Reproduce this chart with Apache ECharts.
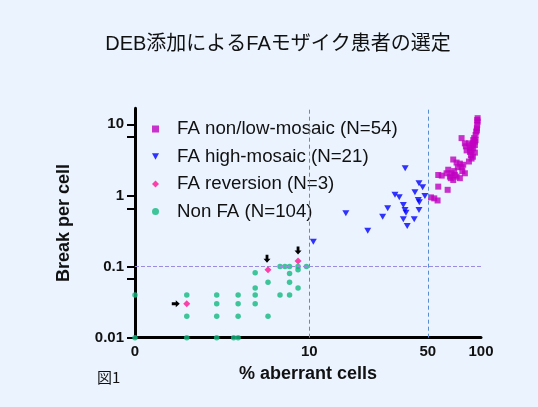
<!DOCTYPE html>
<html>
<head>
<meta charset="utf-8">
<script src="https://cdn.jsdelivr.net/npm/echarts@6/dist/echarts.min.js"></script>
<style>
html,body{margin:0;padding:0;background:#EAF3FE;}
#chart{width:538px;height:407px;}
</style>
</head>
<body>
<div id="chart"></div>
<script>
// ---- data (x = % aberrant cells, y = breaks per cell) ----
const xTickLabels = [0, 10, 50, 100];
const yTickLabels = [0.01, 0.1, 1, 10];
const yMinorTicks = [0.067, 0.65, 6.7];
const refLineY = [0.1];
const refLineX = [10, 50];

const faLowMosaic = [
  [95.7,12.2],[95.7,10.9],[95.2,9.8],[94.8,8.8],[94.0,7.9],[93.2,7.1],[91.5,6.4],[77.7,6.4],
  [92.4,5.7],[90.4,5.4],[88.5,5.1],[85.5,5.4],[81.1,5.4],[82.2,4.9],[86.6,4.6],[90.4,4.6],
  [92.4,5.1],[86.6,4.1],[87.7,3.7],[88.5,3.3],[85.5,3.0],[69.7,3.2],[72.8,2.9],[76.0,2.8],
  [79.4,2.7],[77.7,2.5],[81.1,2.05],[76.0,1.75],[71.2,1.94],[68.2,2.05],[65.3,2.3],[63.9,2.05],
  [66.7,1.84],[69.7,1.65],[72.8,1.84],[57.3,1.94],[57.3,1.33],[64.8,1.20],[52.1,0.94],[54.4,0.91],
  [56.8,0.85],[95.2,11.5],[94.8,8.2],[93.2,6.0],[90.4,6.0],[83.0,4.3],[88.5,4.3],[74.0,2.5],
  [70.5,2.2],[67.5,1.75],[60.0,1.9],[92.4,4.0],[90.0,3.5],[78.5,2.2]
];
const faHighMosaic = [
  [37.1,2.41],[44.5,1.48],[46.7,1.30],[32.4,1.02],[34.3,0.94],[42.2,1.11],[44.1,0.86],
  [48.1,0.98],[44.7,0.80],[36.2,0.735],[37.0,0.625],[37.5,0.573],[29.4,0.66],[27.5,0.503],
  [44.5,0.625],[36.2,0.463],[41.8,0.463],[38.1,0.372],[16.7,0.562],[22.5,0.320],[10.6,0.224]
];
const faReversion = [[1.13,0.03],[5.4,0.09],[8.5,0.12]];
const nonFA = [
  [0,0.04],[0,0.01],
  [1.13,0.04],[1.13,0.02],[1.13,0.01],
  [2.22,0.04],[2.22,0.03],[2.22,0.02],[2.22,0.01],
  [3.3,0.04],[3.3,0.03],[3.3,0.02],[3.3,0.01],[3.05,0.01],
  [4.4,0.082],[4.4,0.05],[4.4,0.04],[4.4,0.03],
  [5.4,0.06],[5.4,0.02],
  [6.5,0.1],[6.5,0.04],
  [7.0,0.1],
  [7.5,0.1],[7.5,0.08],[7.5,0.06],[7.5,0.04],
  [8.5,0.1],[8.5,0.09],[8.5,0.05],
  [9.6,0.1]
];
const seriesNames = ['FA non/low-mosaic (N=54)','FA high-mosaic (N=21)','FA reversion (N=3)','Non FA (N=104)'];

// ---- x scale: log(x + K) so that 0 can be shown ----
const K = 1.2;
const tx = v => Math.log10(v + K);
const ix = t => Math.pow(10, t) - K;
const mapPts = arr => arr.map(p => [tx(p[0]), p[1]]);

const downTri = 'path://M0,0 L10,0 L5,9 Z';
const arrowDown = 'path://M3,0 L7,0 L7,5 L10,5 L5,10 L0,5 L3,5 Z';
const arrowRight = 'path://M0,3 L5,3 L5,0 L10,5 L5,10 L5,7 L0,7 Z';

const chart = echarts.init(document.getElementById('chart'), null, {renderer:'canvas'});
const option = {
  backgroundColor: '#EAF3FE',
  animation: false,
  title: {
    text: 'DEB添加によるFAモザイク患者の選定',
    left: 273, top: 29, textAlign: 'center',
    textStyle: {fontFamily: '"Liberation Sans", "Noto Sans CJK JP", sans-serif', fontSize: 20, fontWeight: 'normal', color: '#111'}
  },
  legend: {
    orient: 'vertical', left: 147, top: 114, padding: 5,
    itemWidth: 7, itemHeight: 7, itemGap: 7.5,
    textStyle: {fontFamily: '"Liberation Sans", Arial, sans-serif', fontSize: 18.7, color: '#111', lineHeight: 20, padding: [0,0,0,13]},
    data: seriesNames
  },
  grid: {left: 135, top: 108.3, width: 346, height: 229.4, containLabel: false},
  xAxis: {
    type: 'value', min: tx(0), max: tx(100),
    name: '% aberrant cells', nameLocation: 'middle', nameGap: 25,
    nameTextStyle: {fontFamily: '"Liberation Sans", Arial, sans-serif', fontSize: 18, fontWeight: 'bold', color: '#111'},
    axisLine: {onZero: false, lineStyle: {color: '#000', width: 3}},
    axisTick: {show: false},
    splitLine: {show: false},
    axisLabel: {
      customValues: xTickLabels.map(tx),
      formatter: v => String(Math.round(ix(v))),
      fontFamily: '"Liberation Sans", Arial, sans-serif', fontSize: 15, fontWeight: 'bold', color: '#111', margin: 7
    }
  },
  yAxis: {
    type: 'log', logBase: 10, min: 0.01, max: 16.8,
    name: 'Break per cell', nameLocation: 'middle', nameGap: 62,
    nameTextStyle: {fontFamily: '"Liberation Sans", Arial, sans-serif', fontSize: 18, fontWeight: 'bold', color: '#111'},
    axisLine: {lineStyle: {color: '#000', width: 3}},
    axisTick: {customValues: yTickLabels.concat(yMinorTicks), length: 8, lineStyle: {color: '#000', width: 2}},
    splitLine: {show: false},
    axisLabel: {
      customValues: yTickLabels,
      formatter: v => String(parseFloat(Number(v).toPrecision(3))),
      fontFamily: '"Liberation Sans", Arial, sans-serif', fontSize: 15, fontWeight: 'bold', color: '#111', margin: 11
    }
  },
  graphic: [{
    type: 'text', left: 97, top: 370,
    style: {text: '図1', font: '15px "Noto Sans CJK JP", sans-serif', fill: '#111'}
  }],
  series: [
    {
      name: seriesNames[0], type: 'scatter', clip: false, z: 3,
      symbol: 'rect', symbolSize: 6, itemStyle: {color: '#C000C0'},
      data: mapPts(faLowMosaic),
      markLine: {
        silent: true, symbol: 'none', label: {show: false},
        data: refLineX.map(v => ({xAxis: tx(v), lineStyle: {color: '#5A8CD2', type: [4,3], width: 1}}))
          .concat(refLineY.map(v => ({yAxis: v, lineStyle: {color: '#9A8CE0', type: [4,2], width: 1}})))
      }
    },
    {
      name: seriesNames[1], type: 'scatter', clip: false, z: 3,
      symbol: downTri, symbolSize: [7, 6], itemStyle: {color: '#0000FF'},
      data: mapPts(faHighMosaic)
    },
    {
      name: seriesNames[2], type: 'scatter', clip: false, z: 5,
      symbol: 'diamond', symbolSize: 7, itemStyle: {color: '#FF1493'},
      data: mapPts(faReversion),
      markPoint: {
        silent: true, label: {show: false}, itemStyle: {color: '#000'},
        data: [
          {coord: [tx(faReversion[0][0]), faReversion[0][1]], symbol: arrowRight, symbolSize: [8, 7], symbolOffset: [-11, 0]},
          {coord: [tx(faReversion[1][0]), faReversion[1][1]], symbol: arrowDown, symbolSize: [7, 8], symbolOffset: [-1, -11]},
          {coord: [tx(faReversion[2][0]), faReversion[2][1]], symbol: arrowDown, symbolSize: [7, 8], symbolOffset: [0, -10.5]}
        ]
      }
    },
    {
      name: seriesNames[3], type: 'scatter', clip: false, z: 4,
      symbol: 'circle', symbolSize: 5.5, itemStyle: {color: '#12B97F'},
      data: mapPts(nonFA)
    }
  ]
};
chart.setOption(option);
</script>
</body>
</html>
